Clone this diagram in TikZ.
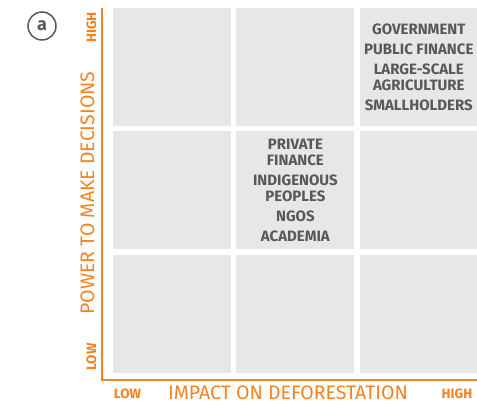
\documentclass[tikz,border=0pt]{standalone}
\usepackage{fontspec}
\setmainfont{Fira Sans}
\usetikzlibrary{positioning}
\definecolor{axisorange}{RGB}{245,130,32}
\definecolor{cellgray}{RGB}{230,231,232}
\definecolor{textgray}{RGB}{88,89,91}

\begin{document}
\begin{tikzpicture}[
        x=1pt, y=1pt,
        node distance=5pt and 5pt,
        cell/.style={
            rectangle,
            minimum width=118pt,
            minimum height=118pt,
            inner sep=0pt,
            fill=cellgray,
            text=textgray,
            font=\fontsize{15}{16}\selectfont\bfseries,
            align=center
        },
        axis/.style={
            line width=2.5pt,
            draw=axisorange
        },
        axistitle/.style={
            text=axisorange,
            font=\fontsize{19.5}{22}\selectfont,
            inner sep=0pt
        },
        endlabel/.style={
            text=axisorange,
            font=\fontsize{13.5}{16}\selectfont\bfseries,
            inner sep=0pt
        },
        panel/.style={
            circle,
            draw=textgray,
            line width=1.5pt,
            minimum size=28pt,
            inner sep=0pt,
            text=textgray,
            font=\fontsize{18}{20}\selectfont\bfseries
        }
    ]

    \useasboundingbox (0,0) rectangle (477,404);

    % Panel label (top left)
    \node[panel] (a) at (42,378) {a};

    % Top row (high power)
    \node[cell] (tl) at (172,337) {};
    \node[cell, right=of tl] (tm) {};
    \node[cell, right=of tm] (tr) {GOVERNMENT\\[4pt]PUBLIC FINANCE\\[4pt]LARGE-SCALE\\AGRICULTURE\\[4pt]SMALLHOLDERS};

    % Middle row
    \node[cell, below=of tl] (ml) {};
    \node[cell, right=of ml] (mm) {PRIVATE\\FINANCE\\[4pt]INDIGENOUS\\PEOPLES\\[4pt]NGOS\\[4pt]ACADEMIA};
    \node[cell, right=of mm] (mr) {};

    % Bottom row (low power)
    \node[cell, below=of ml] (bl) {};
    \node[cell, right=of bl] (bm) {};
    \node[cell, right=of bm] (br) {};

    % Axes
    \coordinate (ytop) at (102,396);
    \coordinate (xend) at (477,24);
    \draw[axis] (ytop) |- (xend);

    % Vertical axis labels
    \node[axistitle, rotate=90] (power) at (87.5,211) {POWER TO MAKE DECISIONS};
    \node[endlabel, rotate=90] (yhigh) at (91.5,376.5) {HIGH};
    \node[endlabel, rotate=90] (ylow) at (91.5,47) {LOW};

    % Horizontal axis labels
    \node[axistitle] (impact) at (288,11.5) {IMPACT ON DEFORESTATION};
    \node[endlabel] (xlow) at (127.5,10.5) {LOW};
    \node[endlabel] (xhigh) at (457,10.5) {HIGH};

\end{tikzpicture}
\end{document}
